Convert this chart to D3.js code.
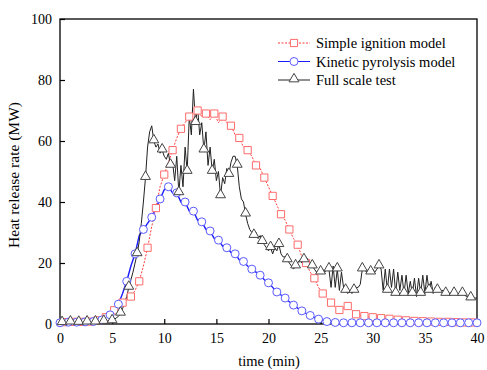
<!DOCTYPE html>
<html><head><meta charset="utf-8">
<script src="https://cdn.jsdelivr.net/npm/d3@7/dist/d3.min.js"></script>
<style>
body{margin:0;background:#fff;}
text{font-family:"Liberation Serif","Times New Roman",serif;}
</style></head>
<body><svg id="c" width="487" height="370"></svg>
<script>
// time step 0.4 min for the models, 0.2 min for the test
const modelStep = 0.4, testStep = 0.2;
const seriesNames = ["Simple ignition model","Kinetic pyrolysis model","Full scale test"];
const xTicks = [0,5,10,15,20,25,30,35,40];
const yTicks = [0,20,40,60,80,100];

const simpleIgnition = [0.5,0.6,0.5,0.7,0.6,0.7,0.8,0.8,1.0,1.2,
 1.6,2.2,3.2,4.5,5.8,7.0,7.8,9.0,11,14,
 19,25,32,38,45,49,53,57,61,64,
 66,68,67,70,68,69,67,69,66,68,
 66,65,62,61,58,57,55,52,51,48,
 45,42,39,36,34,31,28,26,22,20,
 17,15,12,10,8.5,7,5.5,4.6,5.2,5.9,
 4.5,3.2,2.8,2.6,2.4,2.2,2.0,1.9,1.8,1.7,
 1.5,1.4,1.3,1.2,1.1,1.0,1.0,0.9,0.9,0.8,
 0.8,0.7,0.7,0.7,0.6,0.6,0.6,0.5,0.5,0.5,0.5];

const kineticPyrolysis = [0.4,0.5,0.6,0.5,0.6,0.6,0.7,0.7,0.8,1.0,
 1.3,2.0,3.0,4.0,6.5,10,14,19,23,29,
 31,33,35,38,41,44,45,43,43,40,
 40,37,37,34,33.5,31,30.5,28,27.5,25.5,
 25,23.5,23,21,20.5,19,18,17,16,14.5,
 13.5,12,10.5,9.5,8.5,7.3,6.2,5.2,4.3,3.5,
 2.8,2.2,1.6,1.2,0.8,0.6,0.5,0.4,0.4,0.4,
 0.4,0.4,0.4,0.4,0.4,0.4,0.4,0.4,0.4,0.4,
 0.4,0.4,0.4,0.4,0.4,0.4,0.4,0.4,0.4,0.4,
 0.4,0.4,0.4,0.4,0.4,0.4,0.4,0.4,0.4,0.4,0.4];

const fullScaleTest = [
 0.5,0.4,0.6,0.5,0.5,0.6,0.4,0.5,0.6,0.5,0.5,0.6,0.5,0.6,0.5,0.6,0.5,0.6,0.7,0.6,0.7,0.8,0.8,1.0,1.0,
 1.0,1.5,2,2.5,3.5,5,7,9,12,14.5,17,20,23,27,33,40,48,58,63,65,60,58,59,56,57,
 55,54,56,52,53,47,55,43,52,45,58,50,68,62,77,66,71,62,66,57,63,52,58,50,54,
 47,50,42,48,46,51,49,53,55,55,52,45,41,40,36,33,31,30,29,30,28,29,27,26,25,
 24,25,23,25,24,26,23,22,22,21,20,19,18,19,20,21,20,21,22,21,20,19,18,17,17,
 17,18,17,18,18,12,19,12,18,11,17,12,11,10,11,10,11,12,12,13,18,18,17,18,17,
 18,17,18,19,18,11,18,11,18,12,18,10,17,11,16,10,16,10,14,10,15,9,15,10,16,
 10,16,11,14,10,12,11,11,11,11,10,10.5,10,10.5,10,10,10,9.5,10,9.5,9,9,8.5,8.5,8.5,
 8.5];

const svg = d3.select("#c");
const x = d3.scaleLinear().domain([0,40]).range([60,477]);
const y = d3.scaleLinear().domain([0,100]).range([324,19]);

const toPts = (arr, step) => arr.map((v,i)=>({t:i*step, v}));
const red = toPts(simpleIgnition, modelStep);
const blue = toPts(kineticPyrolysis, modelStep);
const black = toPts(fullScaleTest, testStep);

const line = d3.line().x(d=>x(d.t)).y(d=>y(d.v));

// axes
const xAxis = d3.axisBottom(x).tickValues(xTicks).tickSizeInner(-5).tickSizeOuter(0).tickPadding(9);
const yAxis = d3.axisLeft(y).tickValues(yTicks).tickSizeInner(-5).tickSizeOuter(0).tickPadding(8);
const gx = svg.append("g").attr("transform","translate(0,324)").call(xAxis);
const gy = svg.append("g").attr("transform","translate(60,0)").call(yAxis);
[gx,gy].forEach(g=>{
  g.select(".domain").remove();
  g.selectAll("line").attr("stroke","#000").attr("stroke-width",1.2);
  g.selectAll("text").attr("font-size",14).attr("fill","#000").attr("font-family","Liberation Serif");
});

// frame
svg.append("rect").attr("x",60).attr("y",19).attr("width",417).attr("height",305)
  .attr("fill","none").attr("stroke","#000").attr("stroke-width",1.3);

// series lines
svg.append("path").datum(red).attr("d",line).attr("fill","none")
  .attr("stroke","#ff3b3b").attr("stroke-width",1).attr("stroke-dasharray","2,1.5");
svg.append("path").datum(blue).attr("d",line).attr("fill","none")
  .attr("stroke","#1a1aff").attr("stroke-width",1.4);
svg.append("path").datum(black).attr("d",line).attr("fill","none")
  .attr("stroke","#222").attr("stroke-width",1);

// markers
const sq = d3.symbol().type(d3.symbolSquare).size(52);
const ci = d3.symbol().type(d3.symbolCircle).size(50);
const tr = d3.symbol().type(d3.symbolTriangle).size(42);
svg.append("g").selectAll("path").data(red.filter((d,i)=>i%2===1)).join("path")
  .attr("d",sq).attr("transform",d=>`translate(${x(d.t)},${y(d.v)})`)
  .attr("fill","#fff").attr("stroke","#ff6b6b").attr("stroke-width",1);
svg.append("g").selectAll("path").data(blue.filter((d,i)=>i%2===0)).join("path")
  .attr("d",ci).attr("transform",d=>`translate(${x(d.t)},${y(d.v)})`)
  .attr("fill","#fff").attr("stroke","#5a5aff").attr("stroke-width",1);
svg.append("g").selectAll("path").data(black.filter((d,i)=>i%4===1)).join("path")
  .attr("d",tr).attr("transform",d=>`translate(${x(d.t)},${y(d.v)-1})`)
  .attr("fill","#fff").attr("stroke","#444").attr("stroke-width",1);

// legend
const leg = svg.append("g");
const legStyles = [
  {stroke:"#ff3b3b", dash:"2,1.5", sym:sq, mstroke:"#ff6b6b"},
  {stroke:"#1a1aff", dash:null, sym:ci, mstroke:"#5a5aff"},
  {stroke:"#222", dash:null, sym:tr, mstroke:"#444"}
];
seriesNames.forEach((name,i)=>{
  const yy = 43 + i*18.5;
  const s = legStyles[i];
  leg.append("line").attr("x1",278).attr("x2",310).attr("y1",yy).attr("y2",yy)
    .attr("stroke",s.stroke).attr("stroke-width",1).attr("stroke-dasharray",s.dash);
  leg.append("path").attr("d",s.sym).attr("transform",`translate(294,${yy - (i===2?1:0)})`)
    .attr("fill","#fff").attr("stroke",s.mstroke);
  leg.append("text").attr("x",316).attr("y",yy+5).attr("font-size",14.5).attr("fill","#000").text(name);
});

// axis titles
svg.append("text").attr("x",269).attr("y",366).attr("text-anchor","middle")
  .attr("font-size",14.5).attr("fill","#000").text("time (min)");
svg.append("text").attr("transform","translate(19,175) rotate(-90)").attr("text-anchor","middle")
  .attr("font-size",15.5).attr("fill","#000").text("Heat release rate (MW)");
</script></body></html>
